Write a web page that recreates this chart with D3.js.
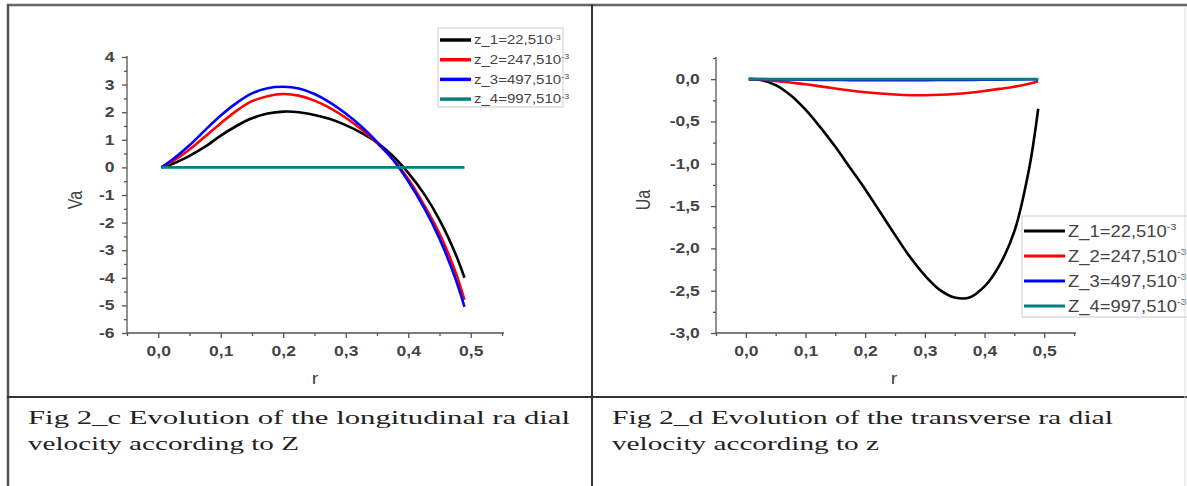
<!DOCTYPE html>
<html>
<head>
<meta charset="utf-8">
<script src="https://d3js.org/d3.v7.min.js"></script>
<style>
  body { margin: 0; background: #fff; }
  svg { display: block; }
  .axis path, .axis line { stroke: #555; stroke-width: 1.3; }
  .axis text { font-family: "Liberation Sans", Arial, sans-serif; font-size: 14px; fill: #444; font-weight: bold; }
  .lbl { font-family: "Liberation Sans", Arial, sans-serif; font-size: 16px; fill: #444; }
  .leg { font-family: "Liberation Sans", Arial, sans-serif; fill: #444; }
  .cap { font-family: "Liberation Serif", "Times New Roman", serif; font-size: 19px; fill: #222; }
</style>
</head>
<body>
<svg width="1187" height="486"></svg>
<script>
// r values shared by every curve
var rVals = [0.005, 0.025, 0.05, 0.075, 0.1, 0.125, 0.15, 0.175, 0.2, 0.225, 0.25,
             0.275, 0.3, 0.325, 0.35, 0.375, 0.4, 0.425, 0.45, 0.475, 0.49];

// Fig 2_c : Va
var va1 = [0, 0.15, 0.42, 0.75, 1.15, 1.5, 1.78, 1.95, 2.02, 2.0, 1.9, 1.75, 1.53, 1.25, 0.9, 0.42, -0.2, -0.95, -1.9, -3.1, -4.0];
var va2 = [0, 0.25, 0.65, 1.12, 1.6, 2.05, 2.4, 2.58, 2.66, 2.6, 2.42, 2.15, 1.8, 1.38, 0.88, 0.3, -0.42, -1.35, -2.4, -3.75, -4.8];
var va3 = [0, 0.32, 0.8, 1.35, 1.88, 2.33, 2.68, 2.87, 2.92, 2.86, 2.66, 2.35, 1.95, 1.48, 0.92, 0.3, -0.5, -1.45, -2.58, -4.0, -5.05];
var va4 = [0, 0, 0, 0, 0, 0, 0, 0, 0, 0, 0, 0, 0, 0, 0, 0, 0, 0, 0, 0, 0];

// Fig 2_d : Ua
var ua1 = [0, -0.01, -0.07, -0.19, -0.36, -0.57, -0.8, -1.05, -1.3, -1.57, -1.84, -2.1, -2.32, -2.49, -2.58, -2.58, -2.45, -2.2, -1.8, -1.05, -0.35];
var ua2 = [0, -0.005, -0.02, -0.04, -0.06, -0.085, -0.11, -0.135, -0.155, -0.17, -0.182, -0.19, -0.19, -0.185, -0.175, -0.16, -0.14, -0.115, -0.09, -0.055, -0.025];
var ua3 = [0, 0, -0.002, -0.004, -0.006, -0.008, -0.01, -0.011, -0.012, -0.012, -0.012, -0.012, -0.011, -0.01, -0.009, -0.008, -0.007, -0.006, -0.004, -0.002, -0.001];
var ua4 = [0, 0, 0, 0, 0, 0, 0, 0, 0, 0, 0, 0, 0, 0, 0, 0, 0, 0, 0, 0, 0];

var colors = ["#000000", "#ff0000", "#0000ff", "#008080"];
var legendLeft = ["z_1=22,510", "z_2=247,510", "z_3=497,510", "z_4=997,510"];
var legendRight = ["Z_1=22,510", "Z_2=247,510", "Z_3=497,510", "Z_4=997,510"];

var xTicks = [0, 0.1, 0.2, 0.3, 0.4, 0.5];
var xMinor = [-0.05, 0.05, 0.15, 0.25, 0.35, 0.45, 0.55];
var vaTicks = [4, 3, 2, 1, 0, -1, -2, -3, -4, -5, -6];
var vaMinor = [3.5, 2.5, 1.5, 0.5, -0.5, -1.5, -2.5, -3.5, -4.5, -5.5];
var uaTicks = [0, -0.5, -1, -1.5, -2, -2.5, -3];
var uaMinor = [0.25, -0.25, -0.75, -1.25, -1.75, -2.25, -2.75];

var captionLeft = ["Fig  2_c  Evolution of the longitudinal ra dial", "velocity according to Z"];
var captionRight = ["Fig 2_d  Evolution of the transverse ra dial", "velocity according to z"];

var svg = d3.select("svg");
var comma = function(d) { return d3.format(".1f")(d).replace(".", ",").replace("−", "-"); };
var stretch = 1.25;

function panel(opt) {
  var x = d3.scaleLinear().domain([-0.05, 0.55]).range(opt.xr);
  var y = d3.scaleLinear().domain(opt.yd).range([333, opt.ytop]);
  var g = svg.append("g");

  // minor ticks
  g.append("g").attr("class", "axis")
      .attr("transform", "translate(0," + y(opt.yd[0]) + ")")
      .call(d3.axisBottom(x).tickValues(xMinor).tickSize(3).tickFormat(""))
      .select(".domain").remove();
  g.append("g").attr("class", "axis")
      .attr("transform", "translate(" + x(-0.05) + ",0)")
      .call(d3.axisLeft(y).tickValues(opt.minor).tickSize(3).tickFormat(""))
      .select(".domain").remove();

  var xa = g.append("g").attr("class", "axis")
      .attr("transform", "translate(0," + y(opt.yd[0]) + ")")
      .call(d3.axisBottom(x).tickValues(xTicks).tickSize(5).tickSizeOuter(0).tickPadding(8).tickFormat(comma));
  xa.select(".domain").attr("d", "M" + x(-0.05) + ",0H" + (x(0.55) + 2));
  xa.selectAll("text").attr("transform", "scale(" + stretch + ",1)");

  var ya = g.append("g").attr("class", "axis")
      .attr("transform", "translate(" + x(-0.05) + ",0)")
      .call(d3.axisLeft(y).tickValues(opt.ticks).tickSize(5).tickSizeOuter(0).tickPadding(opt.pad).tickFormat(opt.fmt));
  ya.select(".domain").attr("d", "M0," + (y(opt.yd[1]) - 1) + "V" + y(opt.yd[0]));
  ya.selectAll("text").attr("transform", "scale(" + stretch + ",1)");

  var line = d3.line()
      .x(function(d) { return x(d[0]); })
      .y(function(d) { return y(d[1]); })
      .curve(d3.curveCatmullRom.alpha(0.5));

  opt.series.forEach(function(s, i) {
    g.append("path")
        .datum(d3.zip(rVals, s))
        .attr("fill", "none")
        .attr("stroke", colors[i])
        .attr("stroke-width", 2.6)
        .attr("d", line);
  });

  g.append("text").attr("class", "lbl")
      .attr("transform", "translate(" + opt.ylab[0] + "," + opt.ylab[1] + ") scale(" + stretch + ",1) rotate(-90)")
      .attr("text-anchor", "middle").text(opt.ytitle);
  g.append("text").attr("class", "lbl")
      .attr("transform", "translate(" + opt.xlab[0] + "," + opt.xlab[1] + ") scale(" + stretch + ",1)")
      .attr("text-anchor", "middle").text("r");

  // legend
  var L = opt.leg;
  g.append("rect").attr("x", L.x).attr("y", L.y).attr("width", L.w).attr("height", L.h)
      .attr("fill", "#fff").attr("stroke", "#ccc").attr("stroke-width", 1);
  L.labels.forEach(function(t, i) {
    var yy = L.y0 + i * L.dy;
    g.append("line").attr("x1", L.x + 2).attr("x2", L.x + 2 + L.lw)
        .attr("y1", yy).attr("y2", yy)
        .attr("stroke", colors[i]).attr("stroke-width", L.sw);
    var tx = g.append("text").attr("class", "leg")
        .attr("transform", "translate(" + (L.x + L.lw + 5) + "," + (yy + L.fs * 0.36) + ") scale(" + L.sx + ",1)")
        .style("font-size", L.fs + "px").text(t);
    tx.append("tspan").attr("dy", -L.fs * 0.4).style("font-size", (L.fs * 0.6) + "px").text("-3");
  });
}

panel({
  xr: [127, 502], yd: [-6, 4], ytop: 57,
  ticks: vaTicks, minor: vaMinor, pad: 5,
  fmt: function(d) { return d3.format("d")(d).replace("−", "-"); },
  series: [va1, va2, va3, va4],
  ytitle: "Va", ylab: [82, 200], xlab: [315, 384],
  leg: { x: 438, y: 28, w: 125, h: 79, y0: 40, dy: 19.7, lw: 31, sw: 3.5, fs: 12, sx: 1.25, labels: legendLeft }
});

panel({
  xr: [716, 1074], yd: [-3, 0.25], ytop: 58,
  ticks: uaTicks, minor: uaMinor, pad: 8,
  fmt: comma,
  series: [ua1, ua2, ua3, ua4],
  ytitle: "Ua", ylab: [650, 200], xlab: [894, 384],
  leg: { x: 1022, y: 216, w: 180, h: 101, y0: 231, dy: 25, lw: 41, sw: 3, fs: 16, sx: 1.15, labels: legendRight }
});

// table frame
var frame = svg.append("g").attr("fill", "none");
frame.append("line").attr("x1", 7).attr("x2", 1187).attr("y1", 5).attr("y2", 5).attr("stroke", "#666").attr("stroke-width", 2.5);
frame.append("line").attr("x1", 8).attr("x2", 8).attr("y1", 4).attr("y2", 486).attr("stroke", "#555").attr("stroke-width", 2.5);
frame.append("line").attr("x1", 592).attr("x2", 592).attr("y1", 4).attr("y2", 486).attr("stroke", "#333").attr("stroke-width", 2);
frame.append("line").attr("x1", 7).attr("x2", 1187).attr("y1", 397).attr("y2", 397).attr("stroke", "#333").attr("stroke-width", 2);
frame.append("line").attr("x1", 1185).attr("x2", 1185).attr("y1", 6).attr("y2", 486).attr("stroke", "#ddd").attr("stroke-width", 1);

// captions
function caption(lines, x, widths) {
  lines.forEach(function(t, i) {
    svg.append("text").attr("class", "cap")
        .attr("x", x).attr("y", 424 + i * 26)
        .attr("textLength", widths[i]).attr("lengthAdjust", "spacingAndGlyphs")
        .text(t);
  });
}
caption(captionLeft, 28, [542, 271]);
caption(captionRight, 612, [501, 267]);
</script>
</body>
</html>
